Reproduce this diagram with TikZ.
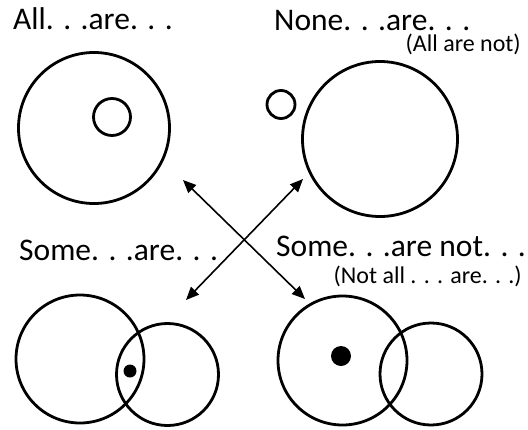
\documentclass[tikz,border=0pt]{standalone}
\usepackage{fontspec}
\setmainfont{Carlito}
\usetikzlibrary{arrows.meta}

\begin{document}
\begin{tikzpicture}[x=1pt, y=-1pt, line cap=round, line join=round]
  \tikzset{
    ring/.style={circle, draw=black, line width=2.8pt, inner sep=0pt, minimum size=#1},
    blob/.style={circle, fill=black, inner sep=0pt, minimum size=#1},
    head/.style={anchor=base west, inner sep=0pt, text depth=0pt, font=\fontsize{31.5}{31.5}\selectfont},
    note/.style={anchor=base east, inner sep=0pt, font=\fontsize{24}{24}\selectfont},
    link/.style={line width=1.6pt, {Triangle[length=13pt, width=11pt]}-{Triangle[length=13pt, width=11pt]}}
  }
  \useasboundingbox (0,0) rectangle (528,429);

  % All ... are ...
  \node[head] (allText) at (13,29) {All. . .are. . .};
  \node[ring=151pt] (allOuter) at (94,128) {};
  \node[ring=37pt] (allInner) at (112,117) {};

  % None ... are ...
  \node[head] (noneText) at (274,30) {None. . .are. . .};
  \node[note] (noneNote) at (521,51.5) {(All are not)};
  \node[ring=155pt] (noneOuter) at (380,139) {};
  \node[ring=28pt] (noneInner) at (281,104.5) {};

  % Some ... are ...
  \node[head] (someText) at (19,260) {Some. . .are. . .};
  \node[ring=128pt] (someA) at (80,359) {};
  \node[ring=102pt] (someB) at (167.5,374.5) {};
  \node[blob=13pt] (someDot) at (130,371) {};

  % Some ... are not ...
  \node[head] (notText) at (276,256) {Some. . .are not. . .};
  \node[note] (notNote) at (522,283) {(Not all . . . are. . .)};
  \node[ring=129pt] (notA) at (342.5,360.5) {};
  \node[ring=102pt] (notB) at (431,374) {};
  \node[blob=20pt] (notDot) at (341,356) {};

  % the two crossing arrows
  \coordinate (tl) at (183,180);
  \coordinate (br) at (305,299);
  \coordinate (tr) at (303,179);
  \coordinate (bl) at (186,300);
  \draw[link] (tl) -- (br);
  \draw[link] (tr) -- (bl);
\end{tikzpicture}
\end{document}
